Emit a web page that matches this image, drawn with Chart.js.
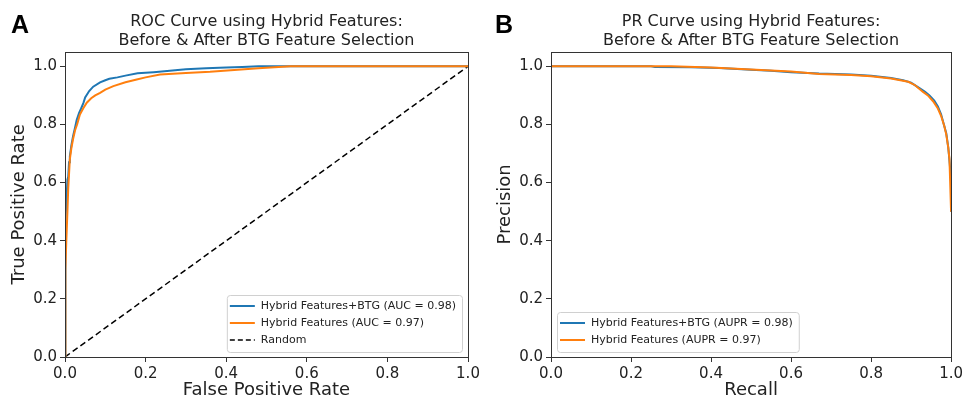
<!DOCTYPE html>
<html>
<head>
<meta charset="utf-8">
<script src="https://cdn.jsdelivr.net/npm/chart.js@4.4.1/dist/chart.umd.min.js"></script>
<style>
  body { margin: 0; background: #fff; }
  #wrap { position: relative; width: 966px; height: 401px; overflow: hidden; }
  .panel { position: absolute; top: 0; width: 483px; height: 401px; }
  .tag { position: absolute; top: 12px; font: bold 25px "Liberation Sans", Arial, sans-serif; line-height: 25px; color: #000; }
</style>
</head>
<body>
<div id="wrap">
  <div class="panel" style="left:0"><canvas id="roc" width="483" height="401"></canvas></div>
  <div class="panel" style="left:483px"><canvas id="pr" width="483" height="401"></canvas></div>
  <div class="tag" style="left:11px">A</div>
  <div class="tag" style="left:495px">B</div>
</div>
<script>
// Data
const axisTicks = [0, 0.2, 0.4, 0.6, 0.8, 1.0];

// ROC - Hybrid Features+BTG
const rocBtgFpr = [0, 0, 0.002, 0.004, 0.006, 0.008, 0.01, 0.012, 0.016, 0.02, 0.025, 0.029, 0.035, 0.04, 0.046, 0.05, 0.06, 0.07, 0.087, 0.1, 0.11, 0.13, 0.15, 0.18, 0.22, 0.26, 0.3, 0.35, 0.4, 0.44, 0.48, 1.0];
const rocBtgTpr = [0, 0.25, 0.47, 0.55, 0.61, 0.62, 0.67, 0.69, 0.73, 0.76, 0.79, 0.815, 0.84, 0.855, 0.875, 0.893, 0.915, 0.93, 0.945, 0.952, 0.957, 0.962, 0.968, 0.976, 0.98, 0.985, 0.99, 0.993, 0.996, 0.998, 1.0, 1.0];

// ROC - Hybrid Features
const rocHybFpr = [0, 0, 0.002, 0.003, 0.006, 0.008, 0.012, 0.016, 0.02, 0.025, 0.03, 0.037, 0.045, 0.054, 0.065, 0.075, 0.087, 0.1, 0.12, 0.15, 0.178, 0.2, 0.236, 0.3, 0.36, 0.42, 0.48, 0.52, 0.56, 1.0];
const rocHybTpr = [0, 0.1, 0.3, 0.39, 0.5, 0.58, 0.68, 0.72, 0.75, 0.78, 0.8, 0.834, 0.855, 0.875, 0.89, 0.9, 0.909, 0.92, 0.932, 0.945, 0.955, 0.962, 0.972, 0.977, 0.981, 0.987, 0.993, 0.997, 1.0, 1.0];

// chance line
const randomX = [0, 1];
const randomY = [0, 1];

// PR - Hybrid Features+BTG
const prBtgRecall = [0, 0.25, 0.26, 0.35, 0.42, 0.5, 0.55, 0.6, 0.67, 0.75, 0.8, 0.85, 0.88, 0.9, 0.92, 0.935, 0.946, 0.958, 0.967, 0.975, 0.982, 0.988, 0.993, 0.997, 1.0, 1.0];
const prBtgPrecision = [1.0, 1.0, 0.998, 0.997, 0.994, 0.988, 0.985, 0.98, 0.975, 0.972, 0.968, 0.96, 0.952, 0.944, 0.926, 0.912, 0.9, 0.882, 0.862, 0.835, 0.8, 0.77, 0.72, 0.66, 0.6, 0.5];

// PR - Hybrid Features
const prHybRecall = [0, 0.3, 0.4, 0.5, 0.6, 0.67, 0.75, 0.8, 0.85, 0.893, 0.91, 0.93, 0.942, 0.955, 0.967, 0.975, 0.983, 0.988, 0.993, 0.996, 1.0];
const prHybPrecision = [1.0, 1.0, 0.996, 0.989, 0.982, 0.974, 0.97, 0.966, 0.958, 0.947, 0.935, 0.912, 0.9, 0.88, 0.855, 0.83, 0.795, 0.765, 0.72, 0.68, 0.5];

const BLUE = '#1f77b4';
const ORANGE = '#ff7f0e';
const FONT = 'DejaVu Sans';
const INK = '#222';

function zip(xs, ys) {
    return xs.map((x, i) => ({ x, y: ys[i] }));
}

// matplotlib-like frame round the plot area
const framePlugin = {
    id: 'frame',
    afterDatasetsDraw(chart) {
        const { ctx, chartArea: a } = chart;
        ctx.save();
        ctx.strokeStyle = '#333';
        ctx.lineWidth = 1;
        ctx.strokeRect(Math.round(a.left) + 0.5, Math.round(a.top) + 0.5,
            Math.round(a.right - a.left), Math.round(a.bottom - a.top));
        ctx.restore();
    }
};

// legend box drawn inside the axes, like loc='lower right' / 'lower left'
const insideLegend = {
    id: 'insideLegend',
    afterDraw(chart, args, opts) {
        const { ctx, chartArea: a } = chart;
        const rowH = 17;
        ctx.save();
        ctx.font = `11px "${FONT}"`;
        const textW = Math.max(...opts.items.map(it => ctx.measureText(it.label).width));
        const w = 34 + textW + 6;
        const h = opts.items.length * rowH + 6;
        const x = opts.corner === 'right' ? a.right - 6 - w : a.left + 6;
        const y = a.bottom - 5 - h;

        ctx.beginPath();
        ctx.roundRect(x + 0.5, y + 0.5, w, h, 3);
        ctx.fillStyle = 'rgba(255,255,255,0.85)';
        ctx.fill();
        ctx.strokeStyle = '#d0d0d0';
        ctx.lineWidth = 1;
        ctx.stroke();

        opts.items.forEach((it, i) => {
            const cy = y + 11 + i * rowH;
            ctx.beginPath();
            ctx.strokeStyle = it.color;
            ctx.lineWidth = it.width || 2;
            ctx.setLineDash(it.dash || []);
            ctx.moveTo(x + 3, cy);
            ctx.lineTo(x + 28, cy);
            ctx.stroke();
            ctx.setLineDash([]);
            ctx.fillStyle = INK;
            ctx.textBaseline = 'middle';
            ctx.fillText(it.label, x + 34, cy);
        });
        ctx.restore();
    }
};

function axis(titleText, isY, fitSize, titlePad) {
    return {
        type: 'linear',
        min: 0,
        max: isY ? 1.05 : 1.0,
        afterBuildTicks: (scale) => { scale.ticks = axisTicks.map(v => ({ value: v })); },
        afterFit: (scale) => {
            if (isY) scale.width = fitSize; else scale.height = fitSize;
        },
        border: { display: false },
        grid: { drawOnChartArea: false, drawTicks: true, tickLength: 5, color: '#333', lineWidth: 1 },
        ticks: {
            autoSkip: false,
            maxRotation: 0,
            padding: 3,
            color: INK,
            font: { family: FONT, size: 15 },
            callback: (v) => Number(v).toFixed(1)
        },
        title: {
            display: true,
            text: titleText,
            color: INK,
            font: { family: FONT, size: 18 },
            padding: titlePad
        }
    };
}

function makeChart(id, titleLines, datasets, xTitle, yTitle, yWidth, rightPad, yTitlePad, legend) {
    return new Chart(document.getElementById(id), {
        type: 'line',
        data: { datasets },
        options: {
            responsive: false,
            animation: false,
            events: [],
            layout: { padding: { top: 0, left: 0, right: rightPad, bottom: 0 } },
            elements: { point: { radius: 0 }, line: { tension: 0, borderWidth: 2 } },
            plugins: {
                legend: { display: false },
                tooltip: { enabled: false },
                title: {
                    display: true,
                    fullSize: false,
                    text: titleLines,
                    color: INK,
                    font: { family: FONT, size: 16, lineHeight: 1.15, weight: 'normal' },
                    padding: { top: 13, bottom: 2 }
                },
                insideLegend: legend
            },
            scales: {
                x: axis(xTitle, false, 44, { top: 0, bottom: 0 }),
                y: axis(yTitle, true, yWidth, { top: yTitlePad, bottom: 0 })
            }
        },
        plugins: [framePlugin, insideLegend]
    });
}

makeChart('roc',
    ['ROC Curve using Hybrid Features:', 'Before & After BTG Feature Selection'],
    [
        { label: 'Hybrid Features+BTG (AUC = 0.98)', data: zip(rocBtgFpr, rocBtgTpr), borderColor: BLUE, order: 1 },
        { label: 'Hybrid Features (AUC = 0.97)', data: zip(rocHybFpr, rocHybTpr), borderColor: ORANGE, order: 0 },
        { label: 'Random', data: zip(randomX, randomY), borderColor: '#000', borderDash: [6, 3.5], borderWidth: 1.5, order: 2 }
    ],
    'False Positive Rate', 'True Positive Rate', 65, 15, 9,
    {
        corner: 'right',
        items: [
            { label: 'Hybrid Features+BTG (AUC = 0.98)', color: BLUE },
            { label: 'Hybrid Features (AUC = 0.97)', color: ORANGE },
            { label: 'Random', color: '#000', dash: [5, 3], width: 1.5 }
        ]
    });

makeChart('pr',
    ['PR Curve using Hybrid Features:', 'Before & After BTG Feature Selection'],
    [
        { label: 'Hybrid Features+BTG (AUPR = 0.98)', data: zip(prBtgRecall, prBtgPrecision), borderColor: BLUE, order: 1 },
        { label: 'Hybrid Features (AUPR = 0.97)', data: zip(prHybRecall, prHybPrecision), borderColor: ORANGE, order: 0 }
    ],
    'Recall', 'Precision', 68, 11, 12,
    {
        corner: 'left',
        items: [
            { label: 'Hybrid Features+BTG (AUPR = 0.98)', color: BLUE },
            { label: 'Hybrid Features (AUPR = 0.97)', color: ORANGE }
        ]
    });
</script>
</body>
</html>
